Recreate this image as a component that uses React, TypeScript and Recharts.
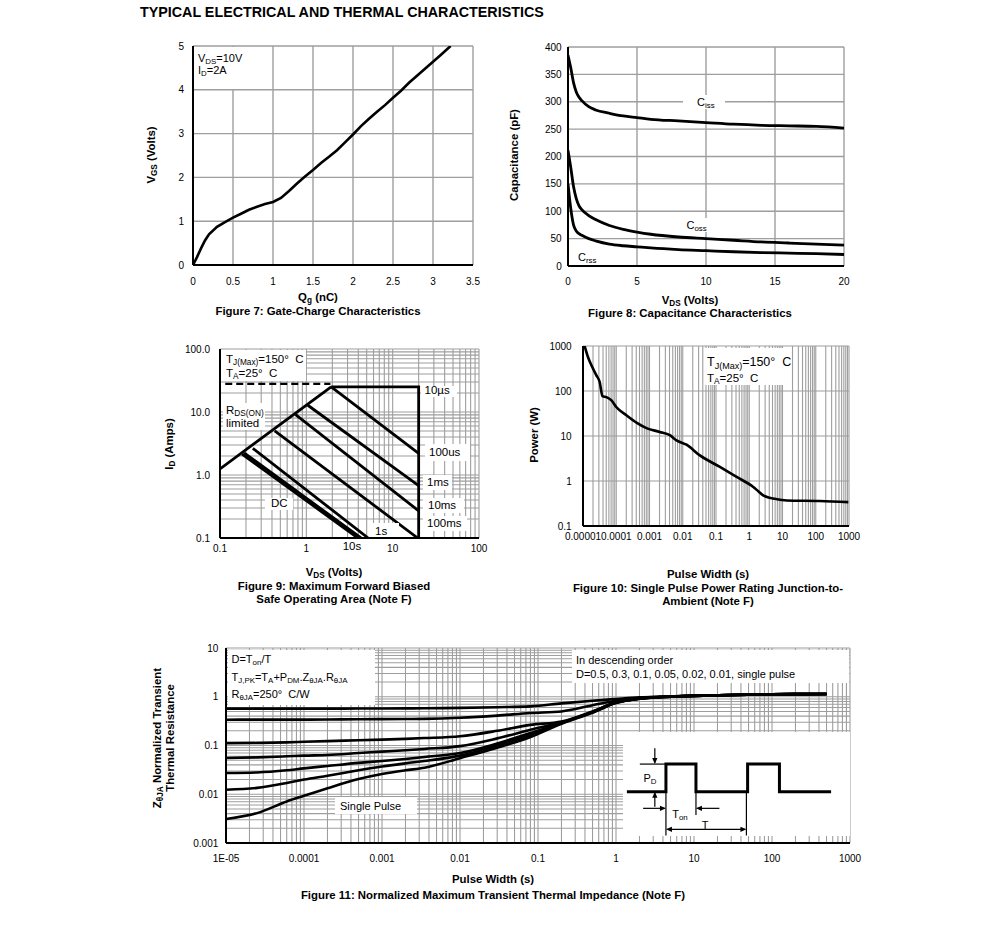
import React from "react";
import {
  LineChart,
  ComposedChart,
  Line,
  Scatter,
  XAxis,
  YAxis,
  CartesianGrid,
  ReferenceLine,
} from "recharts";

const FONT = '"Liberation Sans", Arial, Helvetica, sans-serif';
const GRID = "#9e9e9e";
const INK = "#000";
const AXIS = { stroke: INK, strokeWidth: 2 };
const CAP = 11.4; // caption / axis title size

// ---------- Figure 7: gate charge ----------
const GATE_Q = [0, 0.05, 0.1, 0.15, 0.2, 0.3, 0.4, 0.5, 0.6, 0.7, 0.8, 0.9, 1.0, 1.1, 1.2, 1.3, 1.4, 1.5, 1.6, 1.7, 1.8, 1.9, 2.0, 2.1, 2.2, 2.3, 2.4, 2.5, 2.6, 2.7, 2.8, 2.9, 3.0, 3.1, 3.22]
const GATE_VGS = [0, 0.18, 0.38, 0.56, 0.7, 0.87, 0.98, 1.08, 1.17, 1.26, 1.33, 1.39, 1.44, 1.53, 1.69, 1.86, 2.02, 2.17, 2.33, 2.47, 2.62, 2.8, 2.98, 3.17, 3.34, 3.5, 3.65, 3.82, 3.98, 4.16, 4.32, 4.48, 4.64, 4.8, 5.0]
const GATE_X_TICKS = [0, 0.5, 1, 1.5, 2, 2.5, 3, 3.5]
const GATE_X_LABELS = ["0", "0.5", "1", "1.5", "2", "2.5", "3", "3.5"]
const GATE_Y_TICKS = [0, 1, 2, 3, 4, 5]
const GATE_Y_LABELS = ["0", "1", "2", "3", "4", "5"]

// ---------- Figure 8: capacitance ----------
const CAP_VDS = [0, 0.2, 0.4, 0.6, 0.8, 1, 1.5, 2, 3, 4, 5, 6, 8, 10, 12, 14, 16, 18, 20]
const CAP_CISS = [385, 362, 335, 318, 308, 302, 291, 285, 279, 274, 271, 268, 265, 262, 259, 257, 256, 255, 252]
const CAP_COSS = [211, 180, 145, 123, 110, 103, 92, 85, 74, 67, 62, 58, 53, 50, 47, 44, 42, 40, 38]
const CAP_CRSS = [150, 105, 75, 64, 59, 56, 50, 46, 40, 37, 35, 33, 30, 28, 26, 24.5, 23.5, 22.5, 21]
const CAP_X_TICKS = [0, 5, 10, 15, 20]
const CAP_X_LABELS = ["0", "5", "10", "15", "20"]
const CAP_Y_TICKS = [0, 50, 100, 150, 200, 250, 300, 350, 400]
const CAP_Y_LABELS = ["0", "50", "100", "150", "200", "250", "300", "350", "400"]

// ---------- Figure 9: safe operating area (V, A) ----------
const SOA_RDS_LIMIT = [{ v: 0.1, i: 1.25 }, { v: 1.94, i: 25 }]
const SOA_CURRENT_DASH = [{ v: 0.115, i: 28 }, { v: 1.9, i: 28 }]
const SOA_10US = [{ v: 1.94, i: 25 }, { v: 20, i: 25 }, { v: 20, i: 0.1 }]
const SOA_100US = [{ v: 1.94, i: 25 }, { v: 20, i: 2.2 }]
const SOA_1MS = [{ v: 1.04, i: 12.8 }, { v: 20, i: 0.68 }]
const SOA_10MS = [{ v: 0.75, i: 9.1 }, { v: 20, i: 0.27 }]
const SOA_100MS = [{ v: 0.43, i: 5.0 }, { v: 19.5, i: 0.1 }]
const SOA_1S = [{ v: 0.24, i: 2.65 }, { v: 5.2, i: 0.1 }]
const SOA_10S = [{ v: 0.19, i: 2.25 }, { v: 4.3, i: 0.1 }]
const SOA_DC = [{ v: 0.18, i: 2.15 }, { v: 3.95, i: 0.1 }]
const SOA_X_DECADES = [0.1, 1, 10, 100]
const SOA_X_LABELS = ["0.1", "1", "10", "100"]
const SOA_Y_DECADES = [0.1, 1, 10, 100]
const SOA_Y_LABELS = ["0.1", "1.0", "10.0", "100.0"]

// ---------- Figure 10: single pulse power ----------
const PWR_T = [1.12e-5, 1.41e-5, 1.79e-5, 2.53e-5, 3.18e-5, 3.84e-5, 5.07e-5, 7.2e-5, 1.0e-4, 2.03e-4, 4.05e-4, 8.1e-4, 2.04e-3, 4.08e-3, 6.5e-3, 0.013, 0.0327, 0.131, 0.417, 1.32, 1.9, 2.63, 3.6, 5.25, 13.4, 134, 955]
const PWR_W = [1000, 570, 372, 223, 158, 77, 73, 62, 44, 28.8, 19.8, 15, 12.3, 10.4, 8.0, 6.4, 3.7, 2.05, 1.23, 0.736, 0.585, 0.48, 0.435, 0.41, 0.37, 0.36, 0.34]
const PWR_X_DECADES = [1e-5, 1e-4, 1e-3, 1e-2, 0.1, 1, 10, 100, 1000]
const PWR_X_LABELS = ["0.00001", "0.0001", "0.001", "0.01", "0.1", "1", "10", "100", "1000"]
const PWR_Y_DECADES = [0.1, 1, 10, 100, 1000]
const PWR_Y_LABELS = ["0.1", "1", "10", "100", "1000"]

// ---------- Figure 11: transient thermal impedance ----------
const ZTH_T = [1e-5, 2.5e-5, 6e-5, 1e-4, 2e-4, 5e-4, 1e-3, 2e-3, 3.5e-3, 1e-2, 3e-2, 0.08, 0.2, 0.5, 1, 2, 4, 10, 30, 100, 500]
const ZTH_D05 = [0.57, 0.57, 0.57, 0.57, 0.571, 0.573, 0.575, 0.578, 0.58, 0.59, 0.61, 0.635, 0.73, 0.83, 0.9, 0.97, 1.01, 1.05, 1.09, 1.12, 1.14]
const ZTH_D03 = [0.338, 0.34, 0.34, 0.34, 0.342, 0.345, 0.348, 0.35, 0.352, 0.37, 0.41, 0.464, 0.5, 0.67, 0.83, 0.94, 1.0, 1.05, 1.09, 1.12, 1.14]
const ZTH_D01 = [0.112, 0.113, 0.116, 0.119, 0.123, 0.128, 0.132, 0.137, 0.142, 0.155, 0.2, 0.265, 0.31, 0.5, 0.77, 0.92, 0.99, 1.04, 1.09, 1.12, 1.14]
const ZTH_D005 = [0.0555, 0.057, 0.06, 0.062, 0.064, 0.07, 0.075, 0.08, 0.085, 0.097, 0.14, 0.21, 0.3, 0.49, 0.76, 0.92, 0.99, 1.04, 1.09, 1.12, 1.14]
const ZTH_D002 = [0.0273, 0.028, 0.031, 0.034, 0.038, 0.044, 0.048, 0.053, 0.058, 0.07, 0.11, 0.18, 0.29, 0.49, 0.76, 0.92, 0.99, 1.04, 1.09, 1.12, 1.14]
const ZTH_D001 = [0.0124, 0.0135, 0.017, 0.02, 0.024, 0.031, 0.037, 0.043, 0.048, 0.062, 0.1, 0.165, 0.285, 0.48, 0.75, 0.91, 0.99, 1.04, 1.09, 1.12, 1.14]
const ZTH_SINGLE = [0.0031, 0.0041, 0.0071, 0.0093, 0.0133, 0.0205, 0.026, 0.031, 0.035, 0.055, 0.09, 0.15, 0.28, 0.47, 0.74, 0.91, 0.99, 1.04, 1.09, 1.12, 1.14]
const ZTH_X_DECADES = [1e-5, 1e-4, 1e-3, 1e-2, 0.1, 1, 10, 100, 1000]
const ZTH_X_LABELS = ["1E-05", "0.0001", "0.001", "0.01", "0.1", "1", "10", "100", "1000"]
const ZTH_Y_DECADES = [0.001, 0.01, 0.1, 1, 10]
const ZTH_Y_LABELS = ["0.001", "0.01", "0.1", "1", "10"]

// inset pulse sketch, time in units of Ton, level 0 = off, 1 = on
const INSET_PULSE_T = [-1.3, 0, 0, 1, 1, 2.72, 2.72, 3.78, 3.78, 5.5]
const INSET_PULSE_L = [0, 0, 1, 1, 0, 0, 1, 1, 0, 0]
const INSET_GUIDES = [
  [-0.87, 1, 0, 1],
  [0, 0, 0, -1.58],
  [1, 0, 1, -0.84],
  [2.68, 0, 2.68, -1.58],
  [-0.37, 1.57, -0.37, 1.05],
  [-0.37, -0.54, -0.37, -0.05],
  [-0.76, -0.6, -0.05, -0.6],
  [1.78, -0.6, 1.05, -0.6],
  [0.05, -1.36, 2.63, -1.36],
]
const INSET_ARROWS = [
  { t: -0.37, l: 1.0, dir: "down" },
  { t: -0.37, l: 0.0, dir: "up" },
  { t: 0, l: -0.6, dir: "right" },
  { t: 1, l: -0.6, dir: "left" },
  { t: 0, l: -1.36, dir: "left" },
  { t: 2.68, l: -1.36, dir: "right" },
]

// plot rectangles on the page
type Plot = { x0: number; x1: number; y0: number; y1: number }
const P7: Plot = { x0: 193, x1: 473, y0: 46, y1: 265 }
const P8: Plot = { x0: 568, x1: 844, y0: 47, y1: 266 }
const P9: Plot = { x0: 220, x1: 479, y0: 349, y1: 538 }
const P10: Plot = { x0: 583, x1: 849, y0: 346, y1: 526 }
const P11: Plot = { x0: 226, x1: 850, y0: 648, y1: 843 }

const PAD = { l: 42, r: 14, t: 6, b: 30 }

function frameOf(p: Plot) {
  return {
    style: { position: "absolute" as const, left: p.x0 - PAD.l, top: p.y0 - PAD.t },
    width: p.x1 - p.x0 + PAD.l + PAD.r,
    height: p.y1 - p.y0 + PAD.t + PAD.b,
    margin: { top: PAD.t, right: PAD.r, left: 0, bottom: 0 },
  }
}

function logTicks(lo: number, hi: number): number[] {
  const out: number[] = []
  for (let e = lo; e < hi; e++) {
    for (let m = 1; m < 10; m++) out.push(parseFloat((m * Math.pow(10, e)).toPrecision(6)))
  }
  out.push(parseFloat(Math.pow(10, hi).toPrecision(6)))
  return out
}

function tickRenderer(values: number[], labels: string[], side: "x" | "y", dx: number, dy: number) {
  return (props: any) => {
    const v = Number(props?.payload?.value)
    const idx = values.findIndex((t) => Math.abs(t - v) <= Math.abs(t) * 1e-6 + 1e-12)
    if (idx < 0) return <g />
    return (
      <text
        x={props.x + dx}
        y={props.y + dy}
        textAnchor={side === "x" ? "middle" : "end"}
        fontSize={10}
        fontFamily={FONT}
        fill={INK}
      >
        {labels[idx]}
      </text>
    )
  }
}

const Sub = ({ children }: { children: React.ReactNode }) => (
  <span style={{ fontSize: "0.72em", position: "relative", top: "0.3em" }}>{children}</span>
)

function Label({
  x,
  y,
  size = 11,
  bold = false,
  align = "center",
  rotate = false,
  children,
}: {
  x: number
  y: number
  size?: number
  bold?: boolean
  align?: "left" | "center" | "right"
  rotate?: boolean
  children: React.ReactNode
}) {
  const tx = align === "center" ? "-50%" : align === "right" ? "-100%" : "0%"
  return (
    <div
      style={{
        position: "absolute",
        left: x,
        top: y,
        transform: `translate(${tx}, -50%)${rotate ? " rotate(-90deg)" : ""}`,
        fontFamily: FONT,
        fontSize: size,
        fontWeight: bold ? 700 : 400,
        lineHeight: 1,
        whiteSpace: "pre",
        color: INK,
      }}
    >
      {children}
    </div>
  )
}

function WhiteBox({ x0, y0, x1, y1 }: { x0: number; y0: number; x1: number; y1: number }) {
  return (
    <div style={{ position: "absolute", left: x0, top: y0, width: x1 - x0, height: y1 - y0, background: "#fff" }} />
  )
}

function GateChargeChart() {
  const f = frameOf(P7)
  const data = GATE_Q.map((q, i) => ({ q, v: GATE_VGS[i] }))
  return (
    <div style={f.style}>
      <LineChart width={f.width} height={f.height} margin={f.margin} data={data}>
        <CartesianGrid stroke={GRID} strokeWidth={1.4} />
        <XAxis dataKey="q" type="number" domain={[0, 3.5]} ticks={GATE_X_TICKS} interval={0} height={PAD.b}
          axisLine={AXIS} tickLine={false} allowDataOverflow
          tick={tickRenderer(GATE_X_TICKS, GATE_X_LABELS, "x", 0, 12.3)} />
        <YAxis type="number" domain={[0, 5]} ticks={GATE_Y_TICKS} interval={0} width={PAD.l}
          axisLine={AXIS} tickLine={false} allowDataOverflow
          tick={tickRenderer(GATE_Y_TICKS, GATE_Y_LABELS, "y", -1, 3.6)} />
        <Line dataKey="v" type="linear" stroke={INK} strokeWidth={2.6} dot={false} isAnimationActive={false} />
      </LineChart>
    </div>
  )
}

function CapacitanceChart() {
  const f = frameOf(P8)
  const data = CAP_VDS.map((v, i) => ({ v, ciss: CAP_CISS[i], coss: CAP_COSS[i], crss: CAP_CRSS[i] }))
  return (
    <div style={f.style}>
      <LineChart width={f.width} height={f.height} margin={f.margin} data={data}>
        <CartesianGrid stroke={GRID} strokeWidth={1.4} />
        <XAxis dataKey="v" type="number" domain={[0, 20]} ticks={CAP_X_TICKS} interval={0} height={PAD.b}
          axisLine={AXIS} tickLine={false} allowDataOverflow
          tick={tickRenderer(CAP_X_TICKS, CAP_X_LABELS, "x", 0, 11.3)} />
        <YAxis type="number" domain={[0, 400]} ticks={CAP_Y_TICKS} interval={0} width={PAD.l}
          axisLine={AXIS} tickLine={false} allowDataOverflow
          tick={tickRenderer(CAP_Y_TICKS, CAP_Y_LABELS, "y", 1.7, 3.6)} />
        {["ciss", "coss", "crss"].map((k) => (
          <Line key={k} dataKey={k} type="monotone" stroke={INK} strokeWidth={2.8} dot={false} isAnimationActive={false} />
        ))}
      </LineChart>
    </div>
  )
}

function SoaChart() {
  const f = frameOf(P9)
  const xt = logTicks(-1, 2)
  const yt = logTicks(-1, 2)
  const solid = [SOA_RDS_LIMIT, SOA_10US, SOA_100US, SOA_1MS, SOA_10MS, SOA_100MS, SOA_1S, SOA_10S, SOA_DC]
  return (
    <div style={f.style}>
      <LineChart width={f.width} height={f.height} margin={f.margin}>
        <CartesianGrid stroke={GRID} strokeWidth={1.1} />
        <XAxis dataKey="v" type="number" scale="log" domain={[0.1, 100]} ticks={xt} interval={0} height={PAD.b}
          axisLine={AXIS} tickLine={false} allowDataOverflow
          tick={tickRenderer(SOA_X_DECADES, SOA_X_LABELS, "x", 0, 5.9)} />
        <YAxis dataKey="i" type="number" scale="log" domain={[0.1, 100]} ticks={yt} interval={0} width={PAD.l}
          axisLine={AXIS} tickLine={false} allowDataOverflow
          tick={tickRenderer(SOA_Y_DECADES, SOA_Y_LABELS, "y", -2, 3.6)} />
        <Line data={SOA_CURRENT_DASH} dataKey="i" type="linear" stroke={INK} strokeWidth={2.2}
          strokeDasharray="7 4" dot={false} isAnimationActive={false} />
        {solid.map((d, k) => (
          <Line key={k} data={d} dataKey="i" type="linear" stroke={INK} strokeWidth={2.8}
            dot={false} isAnimationActive={false} />
        ))}
      </LineChart>
    </div>
  )
}

function PowerChart() {
  const f = frameOf(P10)
  const data = PWR_T.map((t, i) => ({ t, p: PWR_W[i] }))
  const xt = logTicks(-5, 3)
  return (
    <div style={f.style}>
      <LineChart width={f.width} height={f.height} margin={f.margin} data={data}>
        <CartesianGrid stroke={GRID} strokeWidth={1.1} />
        <XAxis dataKey="t" type="number" scale="log" domain={[1e-5, 1000]} ticks={xt} interval={0} height={PAD.b}
          axisLine={AXIS} tickLine={false} allowDataOverflow
          tick={tickRenderer(PWR_X_DECADES, PWR_X_LABELS, "x", 0, 6.3)} />
        <YAxis type="number" scale="log" domain={[0.1, 1000]} ticks={PWR_Y_DECADES} interval={0} width={PAD.l}
          axisLine={AXIS} tickLine={false} allowDataOverflow
          tick={tickRenderer(PWR_Y_DECADES, PWR_Y_LABELS, "y", -3.3, 3.6)} />
        <Line dataKey="p" type="monotone" stroke={INK} strokeWidth={2.6} dot={false} isAnimationActive={false} />
      </LineChart>
    </div>
  )
}

function ThermalChart() {
  const f = frameOf(P11)
  const series = [ZTH_D05, ZTH_D03, ZTH_D01, ZTH_D005, ZTH_D002, ZTH_D001, ZTH_SINGLE]
  const data = ZTH_T.map((t, i) => {
    const row: Record<string, number> = { t }
    series.forEach((s, k) => (row["s" + k] = s[i]))
    return row
  })
  const xt = logTicks(-5, 3)
  const yt = logTicks(-3, 1)
  return (
    <div style={f.style}>
      <LineChart width={f.width} height={f.height} margin={f.margin} data={data}>
        <CartesianGrid stroke={GRID} strokeWidth={1.1} />
        <XAxis dataKey="t" type="number" scale="log" domain={[1e-5, 1000]} ticks={xt} interval={0} height={PAD.b}
          axisLine={AXIS} tickLine={false} allowDataOverflow
          tick={tickRenderer(ZTH_X_DECADES, ZTH_X_LABELS, "x", 0, 10.9)} />
        <YAxis type="number" scale="log" domain={[0.001, 10]} ticks={yt} interval={0} width={PAD.l}
          axisLine={AXIS} tickLine={false} allowDataOverflow
          tick={tickRenderer(ZTH_Y_DECADES, ZTH_Y_LABELS, "y", 0.3, 3.6)} />
        {series.map((_, k) => (
          <Line key={k} dataKey={"s" + k} type="monotone" stroke={INK} strokeWidth={2.6} dot={false} isAnimationActive={false} />
        ))}
      </LineChart>
    </div>
  )
}

const ArrowHead = (props: any) => {
  const { cx, cy } = props
  const dir = props?.payload?.dir ?? props?.dir
  const rot = dir === "up" ? 0 : dir === "right" ? 90 : dir === "down" ? 180 : 270
  return <path d="M0,0 L-2.6,6 L2.6,6 Z" fill={INK} transform={`translate(${cx},${cy}) rotate(${rot})`} />
}

function PulseInset() {
  const data = INSET_PULSE_T.map((t, i) => ({ t, l: INSET_PULSE_L[i] }))
  return (
    <div style={{ position: "absolute", left: 623, top: 732, width: 227, height: 104, background: "#fff" }}>
      <ComposedChart width={227} height={104} margin={{ top: 0, right: 0, left: 0, bottom: 0 }}>
        <XAxis dataKey="t" type="number" domain={[-1.43, 6.13]} hide allowDataOverflow />
        <YAxis dataKey="l" type="number" domain={[-1.6, 2.16]} hide allowDataOverflow />
        {INSET_GUIDES.map((g, k) => (
          <ReferenceLine key={k} segment={[{ x: g[0], y: g[1] }, { x: g[2], y: g[3] }]} stroke={INK} strokeWidth={1.2} />
        ))}
        <Line data={data} dataKey="l" type="linear" stroke={INK} strokeWidth={3} dot={false} isAnimationActive={false} />
        <Scatter data={INSET_ARROWS} dataKey="l" shape={ArrowHead} isAnimationActive={false} />
      </ComposedChart>
    </div>
  )
}

export default function App() {
  return (
    <div style={{ position: "absolute", left: 0, top: 0, width: 991, height: 944, background: "#fff", overflow: "hidden" }}>
      <Label x={140} y={12} size={14.3} bold align="left">TYPICAL ELECTRICAL AND THERMAL CHARACTERISTICS</Label>

      <GateChargeChart />
      <CapacitanceChart />
      <SoaChart />
      <PowerChart />
      <ThermalChart />

      {/* Figure 7 */}
      <WhiteBox x0={194} y0={47} x1={246} y1={89} />
      <Label x={198} y={57.5} align="left">V<Sub>DS</Sub>=10V</Label>
      <Label x={198} y={70} align="left">I<Sub>D</Sub>=2A</Label>
      <Label x={152} y={155} size={CAP} bold rotate>V<Sub>GS</Sub> (Volts)</Label>
      <Label x={318} y={298} size={CAP} bold>Q<Sub>g</Sub> (nC)</Label>
      <Label x={318} y={311.5} size={CAP} bold>Figure 7: Gate-Charge Characteristics</Label>

      {/* Figure 8 */}
      <WhiteBox x0={683} y0={95} x1={725} y1={109} />
      <Label x={697} y={102} align="left">C<Sub>iss</Sub></Label>
      <WhiteBox x0={684} y0={218} x1={709} y1={232} />
      <Label x={686.5} y={225} align="left">C<Sub>oss</Sub></Label>
      <Label x={578} y={257} align="left">C<Sub>rss</Sub></Label>
      <Label x={515} y={155} size={CAP} bold rotate>Capacitance (pF)</Label>
      <Label x={690} y={300.5} size={CAP} bold>V<Sub>DS</Sub> (Volts)</Label>
      <Label x={690} y={313.5} size={CAP} bold>Figure 8: Capacitance Characteristics</Label>

      {/* Figure 9 */}
      <WhiteBox x0={221} y0={350} x1={306} y1={381} />
      <Label x={226} y={360} size={11.5} align="left">T<Sub>J(Max)</Sub>=150°  C</Label>
      <Label x={226} y={373.5} size={11.5} align="left">T<Sub>A</Sub>=25°  C</Label>
      <WhiteBox x0={223} y0={403} x1={265} y1={430} />
      <Label x={226} y={410.5} size={11.5} align="left">R<Sub>DS(ON)</Sub></Label>
      <Label x={226} y={424} size={11.5} align="left">limited</Label>
      <WhiteBox x0={265} y0={498} x1={293} y1={510} />
      <Label x={271} y={504} size={11.5} align="left">DC</Label>
      <WhiteBox x0={370} y0={523} x1={399} y1={537} />
      <Label x={375} y={531.5} size={11.5} align="left">1s</Label>
      <WhiteBox x0={421} y0={385.5} x1={457} y1={397} />
      <Label x={424.5} y={390.5} size={11.5} align="left">10µs</Label>
      <WhiteBox x0={425} y0={444} x1={470} y1={461} />
      <Label x={429} y={452.5} size={11.5} align="left">100us</Label>
      <WhiteBox x0={423} y0={475} x1={452} y1={490} />
      <Label x={427} y={482.5} size={11.5} align="left">1ms</Label>
      <WhiteBox x0={423} y0={498} x1={464} y1={513} />
      <Label x={428} y={505.5} size={11.5} align="left">10ms</Label>
      <WhiteBox x0={423} y0={516} x1={467} y1={531} />
      <Label x={427} y={523.5} size={11.5} align="left">100ms</Label>
      <Label x={352} y={547} size={11.5}>10s</Label>
      <Label x={170} y={444} size={CAP} bold rotate>I<Sub>D</Sub> (Amps)</Label>
      <Label x={334} y={573} size={CAP} bold>V<Sub>DS</Sub> (Volts)</Label>
      <Label x={334} y={586.5} size={CAP} bold>Figure 9: Maximum Forward Biased</Label>
      <Label x={334} y={600} size={CAP} bold>Safe Operating Area (Note F)</Label>

      {/* Figure 10 */}
      <WhiteBox x0={705} y0={348} x1={787} y1={385} />
      <Label x={707} y={362} size={12.5} align="left">T<Sub>J(Max)</Sub>=150°  C</Label>
      <Label x={707} y={378.5} size={11.5} align="left">T<Sub>A</Sub>=25°  C</Label>
      <Label x={535} y={435} size={CAP} bold rotate>Power (W)</Label>
      <Label x={708} y={575} size={CAP} bold>Pulse Width (s)</Label>
      <Label x={708} y={589} size={CAP} bold>Figure 10: Single Pulse Power Rating Junction-to-</Label>
      <Label x={708} y={602} size={CAP} bold>Ambient (Note F)</Label>

      {/* Figure 11 */}
      <WhiteBox x0={228} y0={650} x1={375} y1={705} />
      <Label x={231.5} y={658.5} align="left">D=T<Sub>on</Sub>/T</Label>
      <Label x={231.5} y={676.5} align="left">
        T<Sub>J,PK</Sub>=T<Sub>A</Sub>+P<Sub>DM</Sub>.Z<Sub>θJA</Sub>.R<Sub>θJA</Sub>
      </Label>
      <Label x={231.5} y={693.5} align="left">R<Sub>θJA</Sub>=250°  C/W</Label>
      <WhiteBox x0={572} y0={650} x1={849} y1={683} />
      <Label x={576} y={660} align="left">In descending order</Label>
      <Label x={576} y={673.5} align="left">D=0.5, 0.3, 0.1, 0.05, 0.02, 0.01, single pulse</Label>
      <WhiteBox x0={335} y0={797} x1={417} y1={814} />
      <Label x={340} y={805.5} align="left">Single Pulse</Label>
      <PulseInset />
      <Label x={650} y={778}>P<Sub>D</Sub></Label>
      <Label x={680} y={813.5}>T<Sub>on</Sub></Label>
      <Label x={705} y={824.5}>T</Label>
      <Label x={158} y={738} size={CAP} bold rotate>Z<Sub>θJA</Sub> Normalized Transient</Label>
      <Label x={171} y={738} size={CAP} bold rotate>Thermal Resistance</Label>
      <Label x={493} y={880} size={CAP} bold>Pulse Width (s)</Label>
      <Label x={493} y={896} size={CAP} bold>Figure 11: Normalized Maximum Transient Thermal Impedance (Note F)</Label>
    </div>
  )
}
